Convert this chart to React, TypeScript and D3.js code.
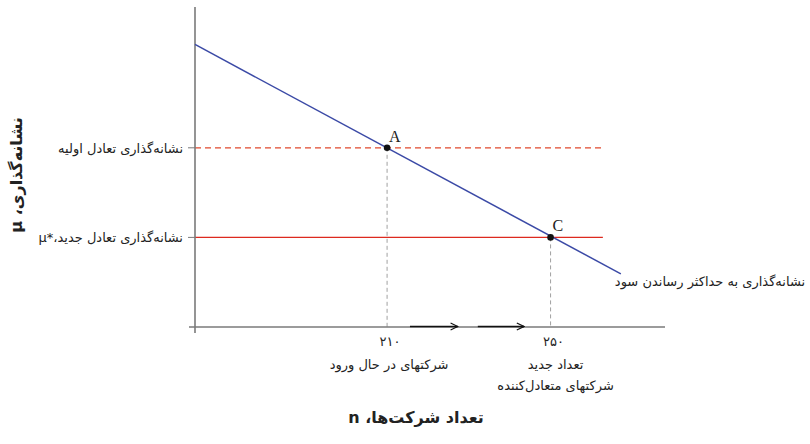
import * as d3 from "d3";

// firms n, markup μ
const nDomain = [163, 278];
const muDomain = [0, 100];

const profitMaxCurve = [
  { n: 163, mu: 88.3 },
  { n: 267.2, mu: 16.6 },
];

const equilibria = [
  { name: "A", n: 210, mu: 56, label: "نشانه‌گذاری تعادل اولیه", dashed: true },
  { name: "C", n: 250, mu: 28, label: "نشانه‌گذاری تعادل جدید،*μ", dashed: false },
];
const markupLineEnd = 262.8;

const xTicks = [210, 250];
const xTickLabels = ["۲۱۰", "۲۵۰"];
const xNotes = [["شرکتهای در حال ورود"], ["تعداد جدید", "شرکتهای متعادل‌کننده"]];

const entryArrows = [
  { from: 215.6, to: 227.3 },
  { from: 232.2, to: 243.5 },
];

const curveLabel = "نشانه‌گذاری به حداکثر رساندن سود";
const yTitle = "نشانه‌گذاری، μ";
const xTitle = "تعداد شرکت‌ها، n";

const W = 810;
const H = 444;
const axisColor = "#7a7a7a";
const sans = "'DejaVu Sans', sans-serif";

export default function App() {
  const x = d3.scaleLinear().domain(nDomain).range([195, 665]);
  const y = d3.scaleLinear().domain(muDomain).range([327, 7]);
  const line = d3
    .line<{ n: number; mu: number }>()
    .x((d) => x(d.n))
    .y((d) => y(d.mu));

  const last = profitMaxCurve[profitMaxCurve.length - 1];

  return (
    <svg
      width={W}
      height={H}
      style={{ position: "absolute", left: 0, top: 0, background: "#fff" }}
    >
      {/* guides from equilibria down to the n axis */}
      {equilibria.map((e) => (
        <line
          key={"v" + e.name}
          x1={x(e.n)}
          x2={x(e.n)}
          y1={y(e.mu)}
          y2={y(0)}
          stroke="#a0a0a0"
          strokeWidth={1}
          strokeDasharray="4,3"
        />
      ))}

      {/* markup levels */}
      {equilibria.map((e) => (
        <line
          key={"h" + e.name}
          x1={x(nDomain[0])}
          x2={x(markupLineEnd)}
          y1={y(e.mu)}
          y2={y(e.mu)}
          stroke={e.dashed ? "#e0492e" : "#dd2a1f"}
          strokeWidth={1.2}
          strokeDasharray={e.dashed ? "6,4" : undefined}
        />
      ))}

      {/* axes */}
      <line x1={x(nDomain[0])} x2={x(nDomain[0])} y1={y(muDomain[1])} y2={y(0) + 6} stroke={axisColor} strokeWidth={1.6} />
      <line x1={x(nDomain[0]) - 6} x2={x(nDomain[1])} y1={y(0)} y2={y(0)} stroke={axisColor} strokeWidth={1.6} />
      {equilibria.map((e) => (
        <line
          key={"t" + e.name}
          x1={x(nDomain[0]) - 7}
          x2={x(nDomain[0])}
          y1={y(e.mu)}
          y2={y(e.mu)}
          stroke={axisColor}
          strokeWidth={1}
        />
      ))}

      {/* profit maximizing markup curve */}
      <path d={line(profitMaxCurve) || ""} fill="none" stroke="#3b4aa6" strokeWidth={1.5} />
      <text x={x(last.n) - 6} y={y(last.mu) + 12} fontFamily={sans} fontSize={13} fill="#222">
        {curveLabel}
      </text>

      {/* points */}
      {equilibria.map((e) => (
        <g key={"p" + e.name}>
          <circle cx={x(e.n)} cy={y(e.mu)} r={3.3} fill="#111" />
          <text
            x={x(e.n) + 2}
            y={y(e.mu) - 6}
            fontFamily="'Liberation Serif', serif"
            fontSize={16}
            fill="#222"
          >
            {e.name}
          </text>
        </g>
      ))}

      {/* y tick labels */}
      {equilibria.map((e) => (
        <text
          key={"yl" + e.name}
          x={183}
          y={y(e.mu) + 5}
          direction="rtl"
          textAnchor="start"
          fontFamily={sans}
          fontSize={13}
          fill="#222"
        >
          {e.label}
        </text>
      ))}

      {/* x tick labels and notes */}
      {xTicks.map((t, i) => (
        <g key={"xt" + t}>
          <text x={x(t) + 3} y={346} textAnchor="middle" fontFamily={sans} fontSize={13} fill="#222">
            {xTickLabels[i]}
          </text>
          {xNotes[i].map((s, j) => (
            <text
              key={j}
              x={x(t) + (i === 0 ? 2 : 5)}
              y={369 + j * 21}
              textAnchor="middle"
              fontFamily={sans}
              fontSize={13}
              fill="#222"
            >
              {s}
            </text>
          ))}
        </g>
      ))}

      {/* firms entering */}
      <defs>
        <marker id="arr" viewBox="0 0 10 10" refX={9} refY={5} markerWidth={9} markerHeight={9} orient="auto" markerUnits="userSpaceOnUse">
          <path d="M1,1 L9,5 L1,9" fill="none" stroke="#111" strokeWidth={1.3} />
        </marker>
      </defs>
      {entryArrows.map((a, i) => (
        <line
          key={"a" + i}
          x1={x(a.from)}
          x2={x(a.to)}
          y1={y(0) - 0.5}
          y2={y(0) - 0.5}
          stroke="#111"
          strokeWidth={1.4}
          markerEnd="url(#arr)"
        />
      ))}

      {/* axis titles */}
      <text
        transform={`translate(22,${175}) rotate(-90)`}
        textAnchor="middle"
        direction="rtl"
        fontFamily={sans}
        fontWeight="bold"
        fontSize={16}
        fill="#222"
      >
        {yTitle}
      </text>
      <text
        x={416}
        y={423}
        textAnchor="middle"
        direction="rtl"
        fontFamily={sans}
        fontWeight="bold"
        fontSize={16}
        fill="#222"
      >
        {xTitle}
      </text>
    </svg>
  );
}
